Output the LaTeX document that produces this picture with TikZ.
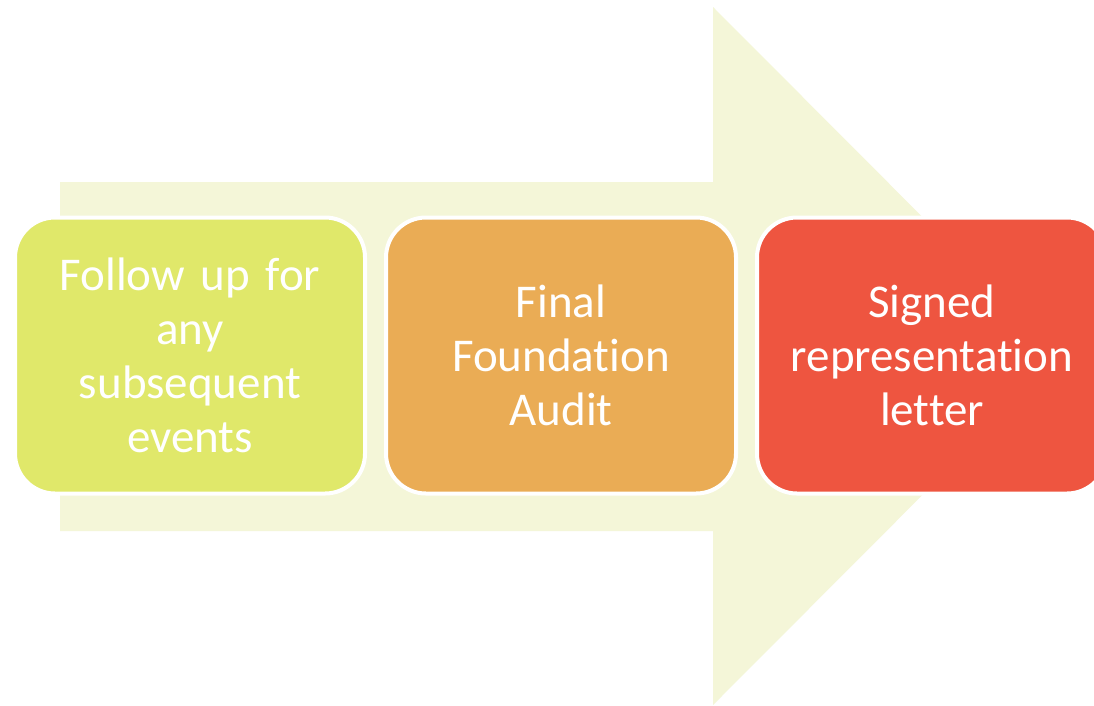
\documentclass[tikz,border=0pt]{standalone}
\usepackage{fontspec}
\setmainfont[Ligatures=NoCommon]{Carlito}
\definecolor{arrowfill}{HTML}{F4F6D8}
\definecolor{boxgreen}{HTML}{E0E86A}
\definecolor{boxorange}{HTML}{EAAC55}
\definecolor{boxred}{HTML}{EE5540}
\tikzset{
  stepbox/.style={draw=white, line width=4pt, rounded corners=40pt,
    minimum width=350pt, minimum height=276pt, text width=340pt,
    align=center, text=white, font=\fontsize{47}{54}\selectfont, inner sep=0pt},
}
\begin{document}
\begin{tikzpicture}[x=1pt,y=-1pt]
\useasboundingbox (0,0) rectangle (1094,705);
\clip (0,0) rectangle (1094,705);
\fill[white] (0,0) rectangle (1094,705);
\fill[arrowfill] (60,182) -- (713,182) -- (713,7) -- (1061,356) -- (713,705) -- (713,531) -- (60,531) -- cycle;
\node[stepbox, fill=boxgreen] (s1) at (190,355.5) {Follow up for\\any\\subsequent\\events};
\node[stepbox, fill=boxorange] (s2) at (561,355.5) {Final\\Foundation\\Audit};
\node[stepbox, fill=boxred] (s3) at (932,355.5) {Signed\\representation\\letter};
\end{tikzpicture}
\end{document}
